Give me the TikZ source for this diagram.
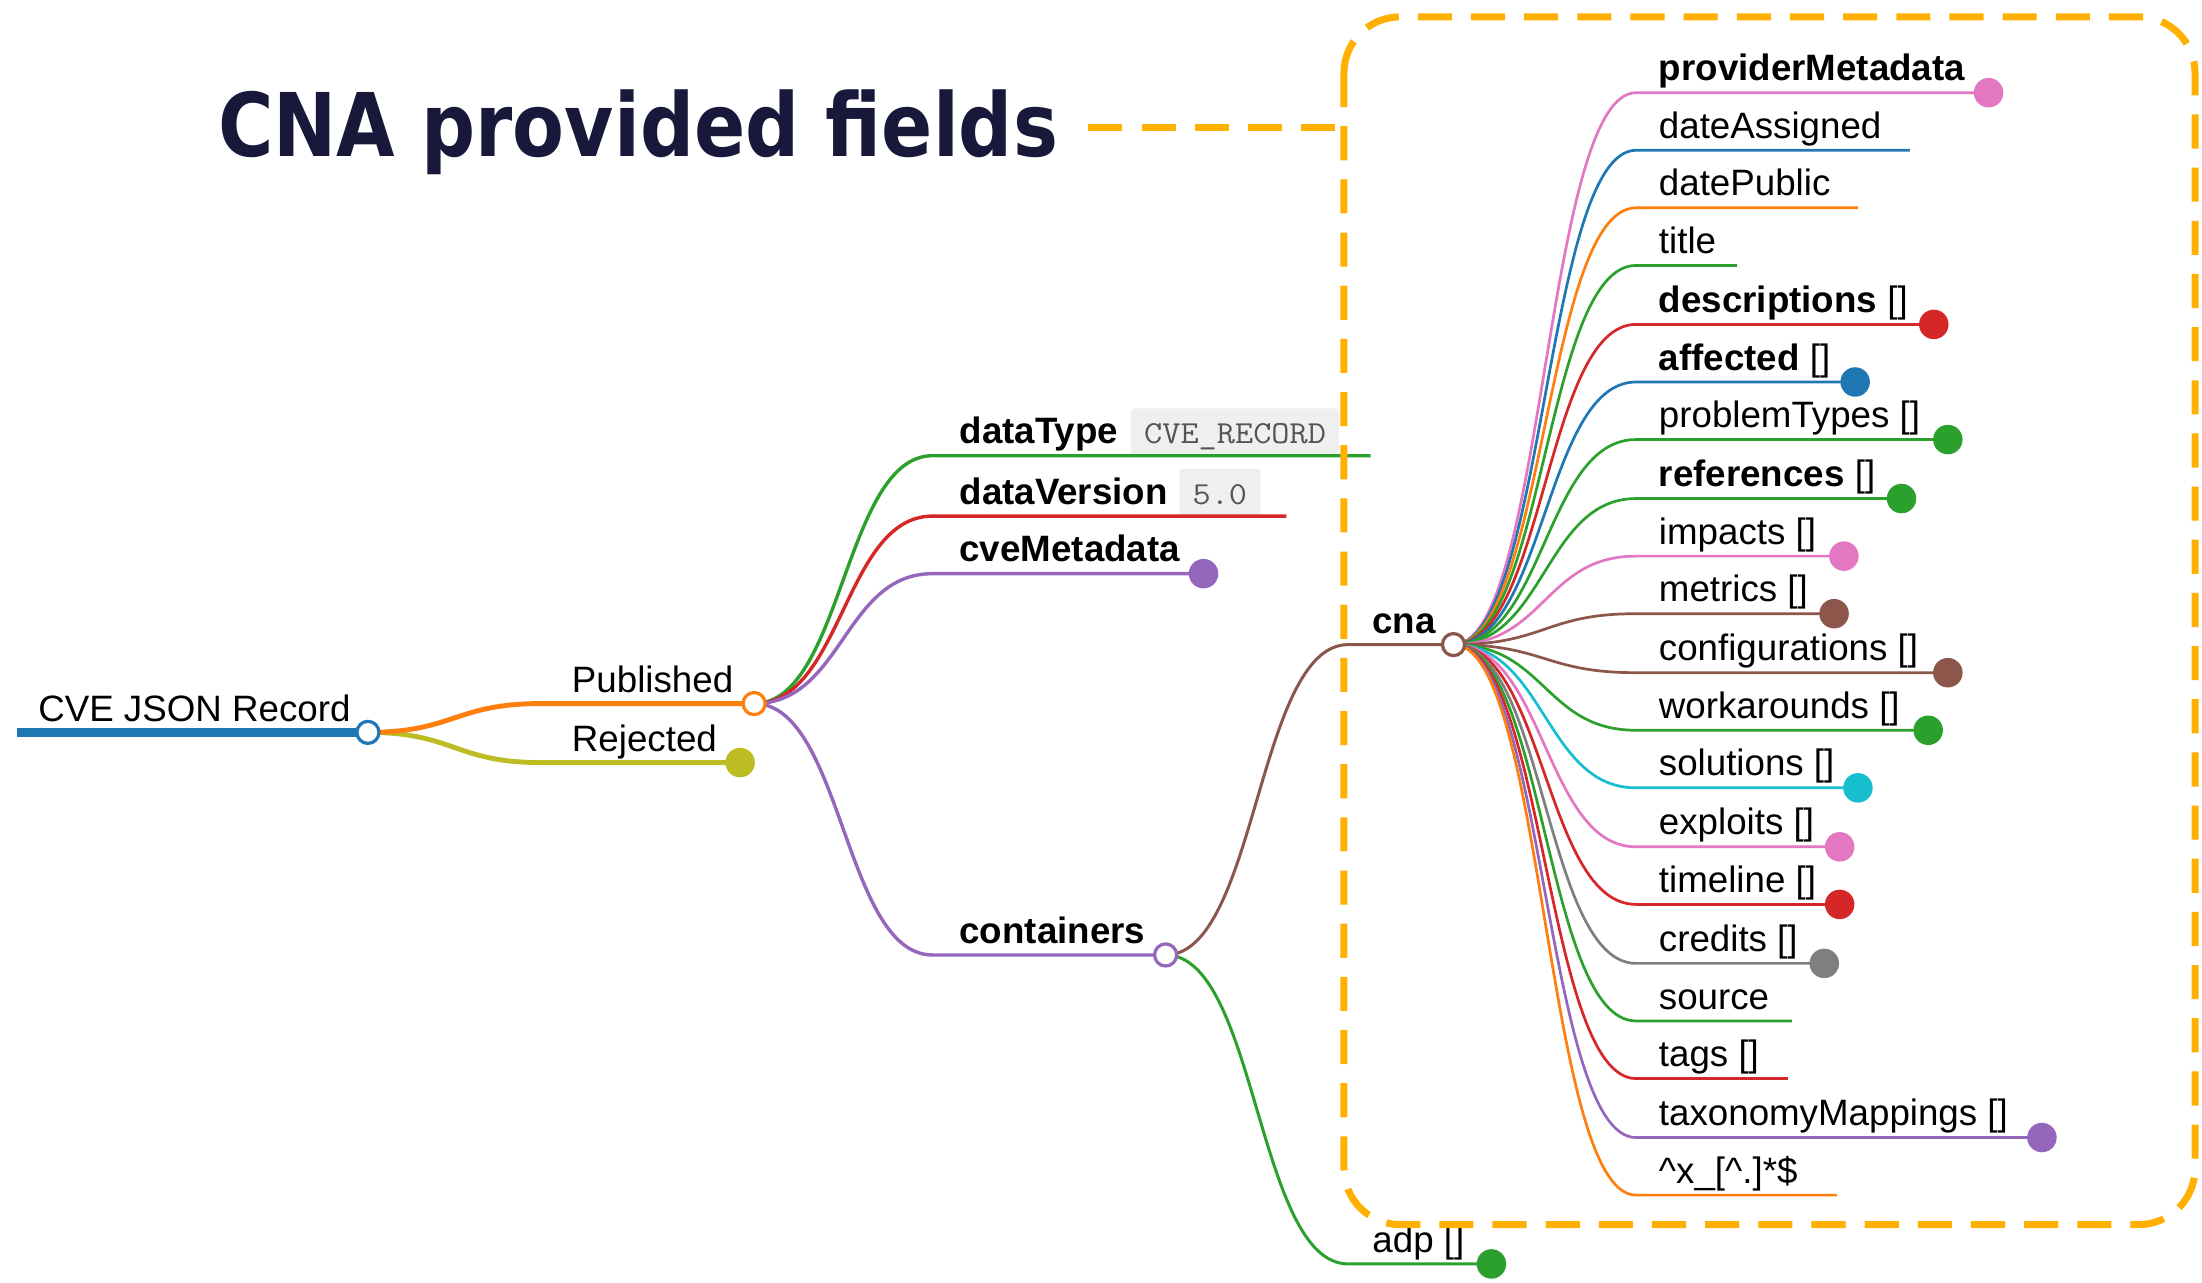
\documentclass[tikz,border=0pt]{standalone}
\usepackage{fontspec}
\setmainfont{Liberation Sans}
\newfontfamily\titlefont{DejaVu Sans}
\definecolor{d3blue}{HTML}{1F77B4}
\definecolor{d3orange}{HTML}{FF7F0E}
\definecolor{d3green}{HTML}{2CA02C}
\definecolor{d3red}{HTML}{D62728}
\definecolor{d3purple}{HTML}{9467BD}
\definecolor{d3brown}{HTML}{8C564B}
\definecolor{d3pink}{HTML}{E377C2}
\definecolor{d3gray}{HTML}{7F7F7F}
\definecolor{d3olive}{HTML}{BCBD22}
\definecolor{d3cyan}{HTML}{17BECF}
\definecolor{amber}{HTML}{FFB000}
\definecolor{navy}{HTML}{18183A}
\definecolor{codebg}{HTML}{EFEFEF}
\definecolor{codefg}{HTML}{555555}
\begin{document}
\begin{tikzpicture}[x=0.7pt,y=-0.7pt,
  lbl/.style={font=\fontsize{18.3pt}{22pt}\selectfont, anchor=base west, inner sep=0pt, text=black},
  blbl/.style={lbl, font=\fontsize{18.3pt}{22pt}\selectfont\bfseries},
  codebox/.style={font=\fontsize{16pt}{18pt}\selectfont\ttfamily, fill=codebg, text=codefg, anchor=base west, inner xsep=6.6pt, inner ysep=0pt, text height=17.6pt, text depth=5.8pt, rounded corners=1.5pt},
  oc/.style={circle, draw=#1, fill=white, line width=1.6pt, minimum size=11pt, inner sep=0pt},
  fc/.style={circle, fill=#1, minimum size=14.7pt, inner sep=0pt},
  leaf/.style={inner sep=0pt, minimum size=0pt},
  w0/.style={line width=4.2pt},
  w1/.style={line width=2.45pt},
  w2/.style={line width=1.7pt},
  w3/.style={line width=1.5pt},
  w4/.style={line width=1.35pt},
  dashbox/.style={amber, line width=3.5pt, dash pattern=on 17pt off 9.5pt}
]
\useasboundingbox (0,0) rectangle (1568,913);

% title
\node[anchor=base west, inner sep=0pt, text=navy] (title) at (155,111.6)
  {\scalebox{0.86}[1]{\titlefont\bfseries\fontsize{43.8pt}{50pt}\selectfont CNA provided fields}};

% root
\coordinate (r0) at (12,521.5);
\coordinate (rP) at (262,521.5);
\draw[d3blue, w0] (r0) -- (rP);
\node[lbl] (rT) at (27,513.5) {CVE JSON Record};

% level 1
\coordinate (pubS) at (385,501);
\coordinate (pubP) at (537,501);
\coordinate (rejS) at (385,543);
\coordinate (rejP) at (527,543);
\draw[d3olive, w1] (rP) .. controls +(61,0) and +(-61,0) .. (rejS) -- (rejP);
\draw[d3orange, w1] (rP) .. controls +(61,0) and +(-61,0) .. (pubS) -- (pubP);
\node[lbl] (pubT) at (407,493) {Published};
\node[lbl] (rejT) at (407,535) {Rejected};

% level 2
\coordinate (dtS) at (664,324.5);
\coordinate (dtE) at (976,324.5);
\coordinate (dvS) at (664,367.5);
\coordinate (dvE) at (916,367.5);
\coordinate (cmS) at (664,408.5);
\coordinate (cmE) at (857,408.5);
\coordinate (coS) at (664,680);
\coordinate (coE) at (830,680);
\node[codebox] (dtV) at (805,316) {\scalebox{1.1}[1]{CVE\_RECORD}};
\node[codebox] (dvV) at (839.5,359) {\scalebox{1.1}[1]{5.0}};
\draw[d3green, w2] (pubP) .. controls +(63,0) and +(-63,0) .. (dtS) -- (dtE);
\draw[d3red, w2] (pubP) .. controls +(63,0) and +(-63,0) .. (dvS) -- (dvE);
\draw[d3purple, w2] (pubP) .. controls +(63,0) and +(-63,0) .. (cmS) -- (cmE);
\draw[d3purple, w2] (pubP) .. controls +(63,0) and +(-63,0) .. (coS) -- (coE);
\node[blbl] (dtT) at (683,316) {dataType};
\node[blbl] (dvT) at (683,359) {dataVersion};
\node[blbl] (cmT) at (683,400) {cveMetadata};
\node[blbl] (coT) at (683,672) {containers};

% level 3
\coordinate (cnaS) at (960,459);
\coordinate (cnaP) at (1035,459);
\coordinate (adpS) at (960,900);
\coordinate (adpE) at (1062,900);
\draw[d3brown, w3] (coE) .. controls +(65,0) and +(-65,0) .. (cnaS) -- (cnaP);
\draw[d3green, w3] (coE) .. controls +(65,0) and +(-65,0) .. (adpS) -- (adpE);
\node[blbl] (cnaT) at (977,451) {cna};
\node[lbl] (adpT) at (977,892) {adp []};

% cna children
\foreach \i/\tx/\y/\xe/\c/\k in {
  1/{\textbf{providerMetadata}}/66/1416/d3pink/fc,
  2/{dateAssigned}/107/1360/d3blue/leaf,
  3/{datePublic}/148/1323/d3orange/leaf,
  4/{title}/189/1237/d3green/leaf,
  5/{\textbf{descriptions} []}/231/1377/d3red/fc,
  6/{\textbf{affected} []}/272/1321/d3blue/fc,
  7/{problemTypes []}/313/1387/d3green/fc,
  8/{\textbf{references} []}/355/1354/d3green/fc,
  9/{impacts []}/396/1313/d3pink/fc,
  10/{metrics []}/437/1306/d3brown/fc,
  11/{configurations []}/479/1387/d3brown/fc,
  12/{workarounds []}/520/1373/d3green/fc,
  13/{solutions []}/561/1323/d3cyan/fc,
  14/{exploits []}/603/1310/d3pink/fc,
  15/{timeline []}/644/1310/d3red/fc,
  16/{credits []}/686/1299/d3gray/fc,
  17/{source}/727/1276/d3green/leaf,
  18/{tags []}/768/1273/d3red/leaf,
  19/{taxonomyMappings []}/810/1454/d3purple/fc,
  20/{\textasciicircum x\_[\textasciicircum.]*\$}/851/1308/d3orange/leaf}
{
  \coordinate (s\i) at (1165,\y);
  \coordinate (e\i) at (\xe,\y);
  \draw[\c, w4] (cnaP) .. controls +(65,0) and +(-65,0) .. (s\i) -- (e\i);
  \node[lbl] (t\i) at (1181,\y-8.5) {\tx};
  \node[\k=\c] (n\i) at (e\i) {};
}

% circles
\node[oc=d3blue] (rC) at (rP) {};
\node[oc=d3orange] (pubC) at (pubP) {};
\node[fc=d3olive] (rejC) at (rejP) {};
\node[fc=d3purple] (cmC) at (cmE) {};
\node[oc=d3purple] (coC) at (coE) {};
\node[oc=d3brown] (cnaC) at (cnaP) {};
\node[fc=d3green] (adpC) at (adpE) {};

% dashed highlight box and connector
\coordinate (dl) at (775,90.7);
\coordinate (dr) at (957,90.7);
\draw[dashbox] (dl) -- (dr);
\draw[dashbox, rounded corners=28pt] (957,12) rectangle (1563,872);
\end{tikzpicture}
\end{document}
